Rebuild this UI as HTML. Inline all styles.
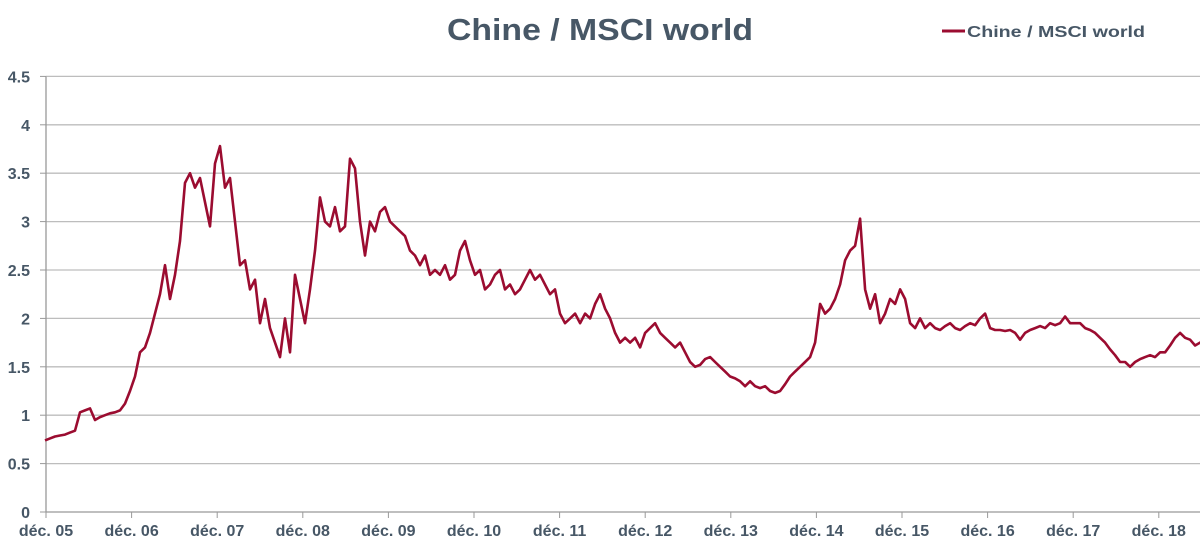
<!DOCTYPE html>
<html><head><meta charset="utf-8"><style>
html,body{margin:0;padding:0;background:#fff;}
svg{display:block;font-family:"Liberation Sans",sans-serif;}
</style></head><body>
<svg id="chart" width="1200" height="551">
<text x="447" y="40" font-size="31" font-weight="bold" fill="#475766" textLength="306" lengthAdjust="spacingAndGlyphs">Chine / MSCI world</text>
<g>
<line x1="942" y1="31" x2="965" y2="31" stroke="#9b0c30" stroke-width="3"/>
<text x="967" y="37" font-size="16" font-weight="bold" fill="#475766" textLength="178" lengthAdjust="spacingAndGlyphs">Chine / MSCI world</text>
</g>
<g id="grid"></g>
<g id="axes"></g>
<g id="series"></g>
</svg>
<script>
const yTicks = [0,0.5,1,1.5,2,2.5,3,3.5,4,4.5];
const yTickLabels = ["0","0.5","1","1.5","2","2.5","3","3.5","4","4.5"];
const xTickLabels = ["déc. 05","déc. 06","déc. 07","déc. 08","déc. 09","déc. 10","déc. 11","déc. 12","déc. 13","déc. 14","déc. 15","déc. 16","déc. 17","déc. 18"];
const startMonth = -0.14;
const stepMonths = 0.701;
const values = [0.74,0.76,0.78,0.79,0.80,0.82,0.84,1.03,1.05,1.07,0.95,0.98,1.00,1.02,1.03,1.05,1.12,1.25,1.40,1.65,1.70,1.85,2.05,2.25,2.55,2.20,2.45,2.80,3.40,3.50,3.35,3.45,3.20,2.95,3.60,3.78,3.35,3.45,3.00,2.55,2.60,2.30,2.40,1.95,2.20,1.90,1.75,1.60,2.00,1.65,2.45,2.20,1.95,2.30,2.70,3.25,3.00,2.95,3.15,2.90,2.95,3.65,3.55,3.00,2.65,3.00,2.90,3.10,3.15,3.00,2.95,2.90,2.85,2.70,2.65,2.55,2.65,2.45,2.50,2.45,2.55,2.40,2.45,2.70,2.80,2.60,2.45,2.50,2.30,2.35,2.45,2.50,2.30,2.35,2.25,2.30,2.40,2.50,2.40,2.45,2.35,2.25,2.30,2.05,1.95,2.00,2.05,1.95,2.05,2.00,2.15,2.25,2.10,2.00,1.85,1.75,1.80,1.75,1.80,1.70,1.85,1.90,1.95,1.85,1.80,1.75,1.70,1.75,1.65,1.55,1.50,1.52,1.58,1.60,1.55,1.50,1.45,1.40,1.38,1.35,1.30,1.35,1.30,1.28,1.30,1.25,1.23,1.25,1.32,1.40,1.45,1.50,1.55,1.60,1.75,2.15,2.05,2.10,2.20,2.35,2.60,2.70,2.75,3.03,2.30,2.10,2.25,1.95,2.05,2.20,2.15,2.30,2.20,1.95,1.90,2.00,1.90,1.95,1.90,1.88,1.92,1.95,1.90,1.88,1.92,1.95,1.93,2.00,2.05,1.90,1.88,1.88,1.87,1.88,1.85,1.78,1.85,1.88,1.90,1.92,1.90,1.95,1.93,1.95,2.02,1.95,1.95,1.95,1.90,1.88,1.85,1.80,1.75,1.68,1.62,1.55,1.55,1.50,1.55,1.58,1.60,1.62,1.60,1.65,1.65,1.72,1.80,1.85,1.80,1.78,1.72,1.75,1.78];

const X0 = 46, PX_PER_MONTH = 85.6/12, Y0 = 512, PX_PER_UNIT = 96.8;
const xScale = m => X0 + m*PX_PER_MONTH;
const yScale = v => Y0 - v*PX_PER_UNIT;
const NS = "http://www.w3.org/2000/svg";
const mk = (tag, attrs, parent) => { const e = document.createElementNS(NS, tag); for (const k in attrs) e.setAttribute(k, attrs[k]); parent.appendChild(e); return e; };
const grid = document.getElementById('grid'), axes = document.getElementById('axes'), series = document.getElementById('series');

yTicks.forEach((v,i) => {
  const y = yScale(v);
  if (v > 0) {
    const g = mk('line', {x1:X0, x2:1200, y1:y, y2:y, stroke:'#bdbdbd', 'stroke-width':1.3}, grid);
    
    
  }
  const t = mk('text', {x:X0-16, y:y+6, 'text-anchor':'end', 'font-size':16, 'font-weight':'bold', fill:'#475766'}, axes);
  t.textContent = yTickLabels[i];
  
  
  const tk = mk('line', {x1:X0-6, x2:X0, y1:y, y2:y, stroke:'#999', 'stroke-width':1}, axes);
  
  
});
const ya = mk('line', {x1:X0, x2:X0, y1:yScale(4.5), y2:Y0, stroke:'#999', 'stroke-width':1.3}, axes);


const xa = mk('line', {x1:X0, x2:1200, y1:Y0, y2:Y0, stroke:'#999', 'stroke-width':1.3}, axes);


xTickLabels.forEach((lab,i) => {
  const x = xScale(i*12);
  const tk = mk('line', {x1:x, x2:x, y1:Y0, y2:Y0+6, stroke:'#999', 'stroke-width':1}, axes);
  
  
  const t = mk('text', {x:x, y:Y0+24, 'text-anchor':'middle', 'font-size':16, 'font-weight':'bold', fill:'#475766'}, axes);
  t.textContent = lab;
  
  
});
const pts = values.map((v,i) => xScale(startMonth + i*stepMonths).toFixed(1) + ',' + yScale(v).toFixed(1)).join(' ');
const line = mk('polyline', {points:pts, fill:'none', stroke:'#9b0c30', 'stroke-width':2.6, 'stroke-linejoin':'round'}, series);


</script>
</body></html>
